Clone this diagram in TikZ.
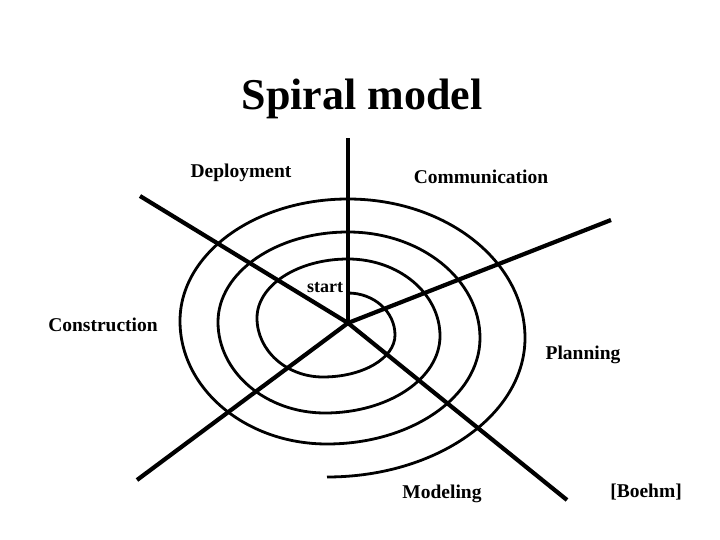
\documentclass[tikz,border=0pt]{standalone}
\usepackage{fontspec}
\setmainfont{Liberation Serif}
\begin{document}
\begin{tikzpicture}[x=1pt,y=-1pt,
  ring/.style={line width=2.8pt,line join=round},
  spoke/.style={line width=4.2pt},
  lbl/.style={font=\fontsize{19.5}{22}\selectfont\bfseries,anchor=base,inner sep=0pt},
  ttl/.style={font=\fontsize{44}{50}\selectfont\bfseries,anchor=base,inner sep=0pt}]
\useasboundingbox (0,0) rectangle (720,540);
% title
\node[ttl] (title) at (362,110) {Spiral model};
% spokes
\coordinate (O) at (348,323);
\coordinate (eN) at (348,138);
\coordinate (eNW) at (140,196);
\coordinate (eNE) at (611,220);
\coordinate (eSW) at (137,480);
\coordinate (eSE) at (567,500);
\draw[spoke] (O) -- (eN);
\draw[spoke] (O) -- (eNW);
\draw[spoke] (O) -- (eNE);
\draw[spoke] (O) -- (eSW);
\draw[spoke] (O) -- (eSE);
% spiral
\draw[ring] (348,293)
  .. controls (374.0,293) and (395,311.8) .. (395,335)
  .. controls (395,358.2) and (362.8,377) .. (323,377)
  .. controls (286.5,377) and (257,350.6) .. (257,318)
  .. controls (257,285.4) and (297.7,259) .. (348,259)
  .. controls (398.8,259) and (440,293.5) .. (440,336)
  .. controls (440,378.5) and (388.5,413) .. (325,413)
  .. controls (265.9,413) and (218,372.3) .. (218,322)
  .. controls (218,272.3) and (276.2,232) .. (348,232)
  .. controls (420.9,232) and (480,279.5) .. (480,338)
  .. controls (480,396.5) and (411.5,444) .. (327,444)
  .. controls (245.8,444) and (180,388.9) .. (180,321)
  .. controls (180,253.6) and (255.2,199) .. (348,199)
  .. controls (445.8,199) and (525,261.2) .. (525,338)
  .. controls (525,414.8) and (436.2,477) .. (327,477);
% labels
\node[lbl] (dep) at (241,178) {Deployment};
\node[lbl] (com) at (481,184) {Communication};
\node[lbl,font=\fontsize{18}{20}\selectfont\bfseries] (start) at (325,292) {start};
\node[lbl] (con) at (103,331) {Construction};
\node[lbl] (pla) at (583,359) {Planning};
\node[lbl] (mod) at (442,498) {Modeling};
\node[lbl] (boe) at (646,497) {[Boehm]};
\end{tikzpicture}
\end{document}
